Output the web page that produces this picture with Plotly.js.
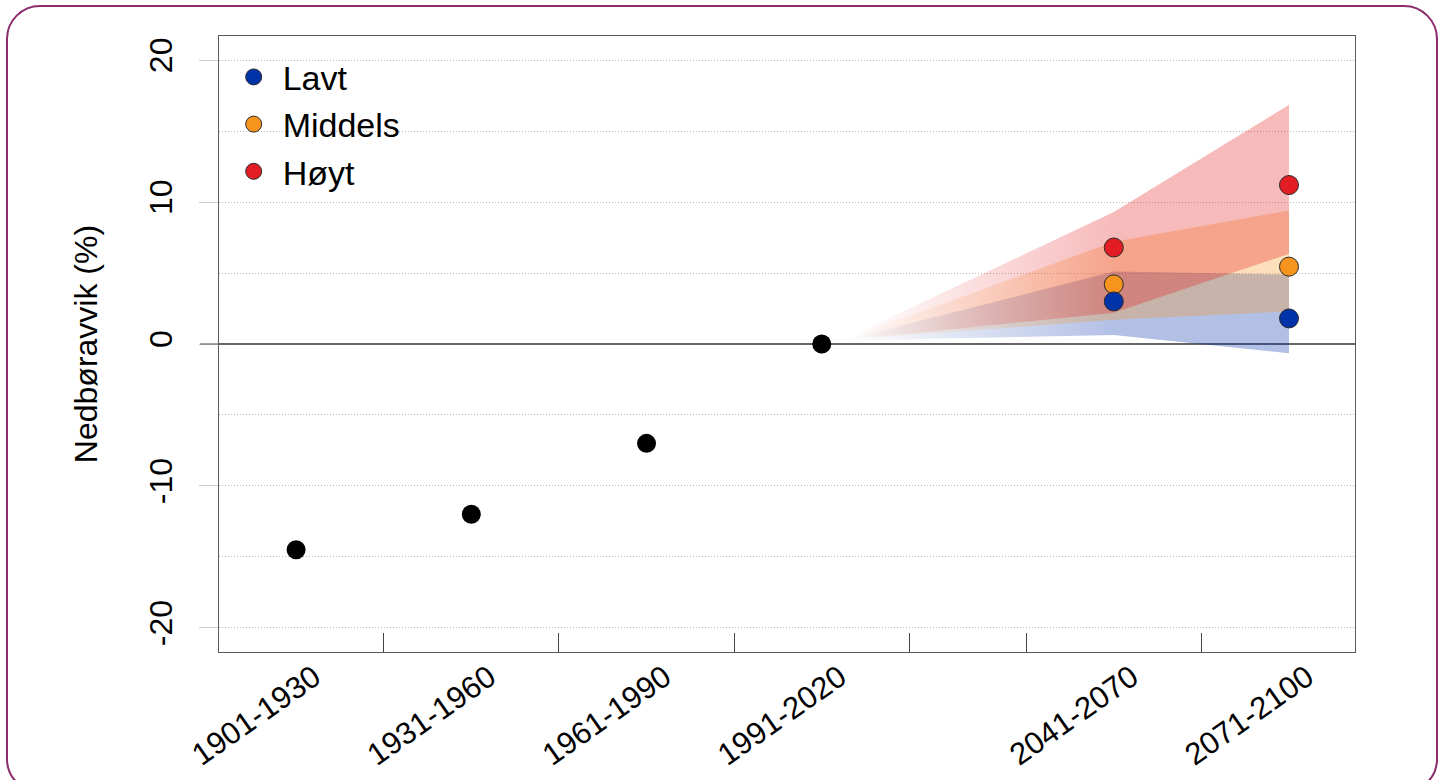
<!DOCTYPE html>
<html>
<head>
<meta charset="utf-8">
<script src="https://cdn.plot.ly/plotly-3.0.1.min.js"></script>
<style>
  html, body { margin: 0; padding: 0; background: #ffffff; overflow: hidden; }
  #wrap { position: relative; width: 1441px; height: 780px; }
  #frame { position: absolute; left: 6px; top: 5px; width: 1432px; height: 788px;
           border: 2px solid #8c2c6e; border-radius: 34px; box-sizing: border-box; pointer-events: none; z-index: 5; }
  #chart { position: absolute; left: 0; top: 0; width: 1441px; height: 780px; }
</style>
</head>
<body>
<div id="wrap">
  <div id="chart"></div>
  <div id="frame"></div>
</div>
<script>
// ---- data ----
const periods = ['1901-1930', '1931-1960', '1961-1990', '1991-2020', '2041-2070', '2071-2100'];
const periodMid = [1915.5, 1945.5, 1975.5, 2005.5, 2055.5, 2085.5];
const periodBounds = [1930.5, 1960.5, 1990.5, 2020.5, 2040.5, 2070.5];

const obsX = [1915.5, 1945.5, 1975.5, 2005.5];
const obsVals = [-14.5, -12.0, -7.0, 0.0];

const scenarios = ['Lavt', 'Middels', 'Høyt'];
const projX = [2055.5, 2085.5];
const lavtMid = [3.0, 1.8];
const middelsMid = [4.2, 5.45];
const hoytMid = [6.8, 11.2];

const bandX = [2010, 2055.5, 2085.5];
const lavtLow = [0.25, 0.63, -0.65];
const lavtHigh = [0.35, 5.1, 4.9];
const middelsLow = [0.3, 1.7, 2.3];
const middelsHigh = [0.4, 7.2, 9.4];
const hoytLow = [0.3, 2.2, 6.35];
const hoytHigh = [0.45, 9.3, 16.85];

const yTicks = [-20, -10, 0, 10, 20];
const yTickText = ['-20', '-10', '0', '10', '20'];

// ---- styles ----
const FONT = 'Liberation Sans, Arial, Helvetica, sans-serif';
const colBlue = [0, 45, 170];
const colOrange = [247, 148, 29];
const colRed = [228, 26, 28];
const dotBlue = '#0033a8';
const dotOrange = '#f7941d';
const dotRed = '#e31d24';
const ALPHA = 0.3;
const GRID = '#b8b8b8';

function rgba(c, a) { return 'rgba(' + c[0] + ',' + c[1] + ',' + c[2] + ',' + a + ')'; }

function band(low, high, col) {
  const xs = bandX.concat(bandX.slice().reverse());
  const ys = low.concat(high.slice().reverse());
  return {
    type: 'scatter', mode: 'lines', x: xs, y: ys,
    fill: 'toself', line: { width: 0, color: 'rgba(0,0,0,0)' },
    fillcolor: rgba(col, ALPHA),
    fillgradient: {
      type: 'horizontal', start: bandX[0], stop: bandX[1],
      colorscale: [[0, rgba(col, 0)], [1, rgba(col, ALPHA)]]
    },
    hoverinfo: 'skip', showlegend: false
  };
}

function dots(name, vals, color, rank) {
  return {
    type: 'scatter', mode: 'markers', name: name, x: projX, y: vals,
    marker: { size: 19, color: color, line: { color: '#2a2a2a', width: 1 } },
    legendrank: rank, showlegend: true
  };
}

const traces = [
  band(lavtLow, lavtHigh, colBlue),
  band(middelsLow, middelsHigh, colOrange),
  band(hoytLow, hoytHigh, colRed),
  {
    type: 'scatter', mode: 'markers', x: obsX, y: obsVals,
    marker: { size: 19, color: '#000000' }, showlegend: false
  },
  dots(scenarios[2], hoytMid, dotRed, 3),
  dots(scenarios[1], middelsMid, dotOrange, 2),
  dots(scenarios[0], lavtMid, dotBlue, 1)
];

const plotW = 1441 - 219 - 86;

const layout = {
  width: 1441, height: 780,
  margin: { l: 219, r: 86, t: 36, b: 128, pad: 0 },
  paper_bgcolor: 'rgba(0,0,0,0)', plot_bgcolor: 'rgba(0,0,0,0)',
  font: { family: FONT, color: '#000000', size: 31 },
  showlegend: true,
  legend: {
    x: 0.005, y: 0.98, xanchor: 'left', yanchor: 'top',
    bgcolor: 'rgba(0,0,0,0)', borderwidth: 0,
    font: { family: FONT, size: 34, color: '#000' },
    itemsizing: 'trace', itemwidth: 48, tracegroupgap: 0
  },
  xaxis: {
    range: [1902.3, 2096.8], fixedrange: true,
    tickmode: 'array', tickvals: periodMid, ticktext: periods,
    tickangle: -35, ticks: '', showgrid: false, zeroline: false,
    ticklabelshift: 18, ticklabelstandoff: -6,
    tickfont: { family: FONT, size: 31, color: '#000' },
    showline: true, mirror: true, linecolor: '#5a5a5a', linewidth: 1,
    minor: {
      tickmode: 'array', tickvals: periodBounds, ticks: 'inside',
      ticklen: 19, tickwidth: 1, tickcolor: '#444444', showgrid: false
    }
  },
  yaxis: {
    range: [-21.7, 21.7], fixedrange: true,
    tickmode: 'array', tickvals: yTicks, ticktext: yTickText,
    tickangle: -90, ticks: 'outside', ticklen: 19, tickwidth: 1, tickcolor: '#cccccc',
    ticklabelstandoff: 14,
    tickfont: { family: FONT, size: 32, color: '#000' },
    showgrid: true, gridcolor: GRID, griddash: '1px,2px', gridwidth: 1,
    minor: { tickmode: 'linear', tick0: 0, dtick: 5, showgrid: true, gridcolor: GRID, griddash: '1px,2px', gridwidth: 1, ticks: '' },
    zeroline: true, zerolinecolor: '#666666', zerolinewidth: 1.2,
    showline: true, mirror: true, linecolor: '#5a5a5a', linewidth: 1,
    title: { text: 'Nedbøravvik (%)', font: { family: FONT, size: 32, color: '#000' }, standoff: 36 },
    automargin: false
  },
  shapes: [
    { type: 'line', xref: 'paper', yref: 'paper', x0: -19 / plotW, x1: 0, y0: 0.5, y1: 0.5,
      line: { color: '#666666', width: 1.2 } }
  ]
};

Plotly.newPlot('chart', traces, layout, { displayModeBar: false, staticPlot: true });
</script>
</body>
</html>
